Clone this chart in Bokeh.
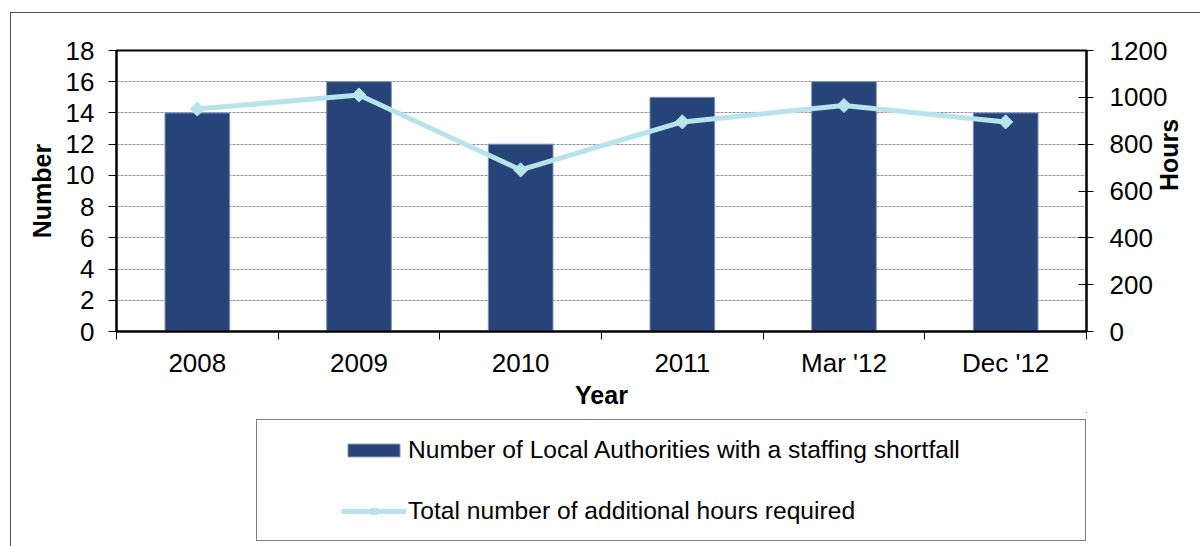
from bokeh.plotting import figure
from bokeh.layouts import column
from bokeh.models import Range1d, LinearAxis, FixedTicker, Legend, LegendItem
from bokeh.embed import file_html
from bokeh.resources import INLINE

categories = ["2008", "2009", "2010", "2011", "Mar '12", "Dec '12"]
la_counts = [14, 16, 12, 15, 16, 14]
extra_hours = [950, 1010, 690, 895, 965, 895]
left_ticks = [0, 2, 4, 6, 8, 10, 12, 14, 16, 18]
right_ticks = [0, 200, 400, 600, 800, 1000, 1200]
bar_label = "Number of Local Authorities with a staffing shortfall"
line_label = "Total number of additional hours required"

FONT = "Liberation Sans"
BAR = "#264478"
BAR_EDGE = "#7d93b8"
LINE = "#b7e4ea"

xs = [i + 0.5 for i in range(len(categories))]

fig = figure(width=1189, height=399, output_backend="svg", toolbar_location=None,
             x_range=Range1d(0, len(categories)), y_range=Range1d(0, 18),
             min_border_left=105, min_border_right=114, min_border_top=37,
             min_border_bottom=81, background_fill_color="white",
             border_fill_color="white", outline_line_color="black",
             outline_line_width=2)
fig.extra_y_ranges = {"hours": Range1d(0, 1200)}

bars = fig.vbar(x=xs, top=la_counts, width=0.4, fill_color=BAR,
                line_color=BAR_EDGE, line_width=1)
fig.line(x=xs, y=extra_hours, y_range_name="hours", line_color=LINE, line_width=5)
fig.scatter(x=xs, y=extra_hours, y_range_name="hours", marker="square",
            angle=0.785398, size=10, fill_color=LINE, line_color=LINE)

# bottom axis
xa = fig.xaxis[0]
xa.ticker = FixedTicker(ticks=xs, minor_ticks=list(range(len(categories) + 1)))
xa.major_label_overrides = {x: c for x, c in zip(xs, categories)}
xa.major_tick_in = 0
xa.major_tick_out = 0
xa.minor_tick_in = 0
xa.minor_tick_out = 8
xa.minor_tick_line_color = "black"
xa.axis_line_color = "black"
xa.axis_line_width = 2
xa.major_label_text_font = FONT
xa.major_label_text_font_size = "26px"
xa.major_label_text_color = "black"
xa.major_label_standoff = 8
xa.axis_label = "Year"
xa.axis_label_text_font = FONT
xa.axis_label_text_font_size = "25px"
xa.axis_label_text_font_style = "bold"
xa.axis_label_text_color = "black"
xa.axis_label_standoff = 0

# left axis
ya = fig.yaxis[0]
ya.ticker = FixedTicker(ticks=left_ticks)
ya.major_tick_in = 0
ya.major_tick_out = 8
ya.minor_tick_line_color = None
ya.major_tick_line_color = "black"
ya.axis_line_color = "black"
ya.axis_line_width = 2
ya.major_label_text_font = FONT
ya.major_label_text_font_size = "26px"
ya.major_label_text_color = "black"
ya.major_label_standoff = 14
ya.axis_label = "Number"
ya.axis_label_text_font = FONT
ya.axis_label_text_font_size = "25px"
ya.axis_label_text_font_style = "bold"
ya.axis_label_text_color = "black"
ya.axis_label_standoff = 7

# right axis
ra = LinearAxis(y_range_name="hours", ticker=FixedTicker(ticks=right_ticks))
ra.major_tick_in = 8
ra.major_tick_out = 7
ra.minor_tick_line_color = None
ra.major_tick_line_color = "black"
ra.axis_line_color = "black"
ra.axis_line_width = 2
ra.major_label_text_font = FONT
ra.major_label_text_font_size = "26px"
ra.major_label_text_color = "black"
ra.major_label_standoff = 16
ra.axis_label = "Hours"
ra.axis_label_text_font = FONT
ra.axis_label_text_font_size = "25px"
ra.axis_label_text_font_style = "bold"
ra.axis_label_text_color = "black"
ra.axis_label_text_align = "center"
ra.axis_label_standoff = -1
try:
    ra.axis_label_orientation = 1.5707963
except Exception:
    pass
fig.add_layout(ra, "right")

fig.xgrid.visible = False
fig.ygrid.ticker = FixedTicker(ticks=left_ticks)
fig.ygrid.grid_line_color = "#8c8cc0"
fig.ygrid.grid_line_dash = "3 1"
fig.ygrid.grid_line_width = 1

# legend panel (its key renderers use the same data, kept outside the panel's view)
leg = figure(width=1189, height=134, output_backend="svg", toolbar_location=None,
             x_range=Range1d(-2, -1), y_range=Range1d(-2, -1),
             x_axis_location=None, y_axis_location=None,
             min_border=0, outline_line_color=None,
             background_fill_color="white", border_fill_color="white")
leg.xgrid.visible = False
leg.ygrid.visible = False
kb = leg.vbar(x=xs, top=la_counts, width=0.4, fill_color=BAR,
              line_color=BAR_EDGE, line_width=1)
kl = leg.line(x=xs, y=la_counts, line_color=LINE, line_width=5)
ks = leg.scatter(x=xs, y=la_counts, marker="square", angle=0.785398, size=10,
                 fill_color=LINE, line_color=LINE)

items = [LegendItem(label=bar_label, renderers=[kb]),
         LegendItem(label=line_label, renderers=[kl, ks])]
common = dict(items=items, location=(140, 5), orientation="vertical",
              margin=0, spacing=33, glyph_width=65, glyph_height=16,
              label_standoff=2, label_height=28, label_width=657,
              label_text_font=FONT, label_text_font_size="24.6px",
              label_text_color="black", background_fill_color="white",
              border_line_color="black", border_line_width=1)
try:
    legend = Legend(padding=dict(left=84, right=20, top=16, bottom=15), **common)
except Exception:
    legend = Legend(padding=16, **common)
leg.add_layout(legend)

p = column(fig, leg, spacing=0)
p.styles = {"margin-left": "10px", "margin-top": "12px",
            "border-left": "1px solid #555555", "border-top": "1px solid #555555"}

open("out.html", "w").write(file_html(p, INLINE))
